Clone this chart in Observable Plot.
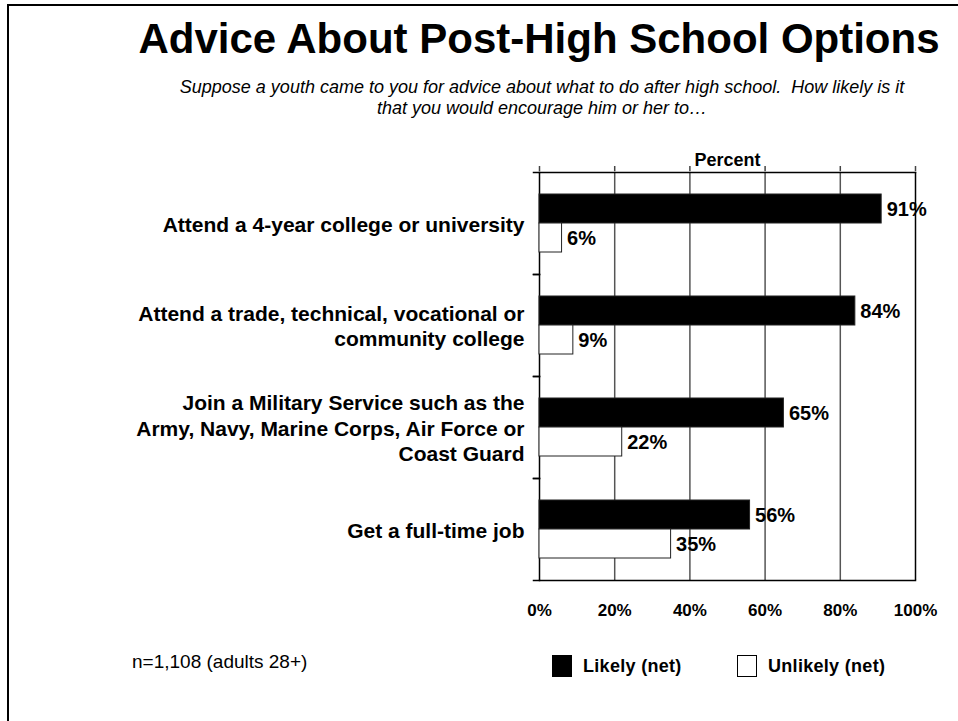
<!DOCTYPE html>
<html>
<head>
<meta charset="utf-8">
<script src="https://cdn.jsdelivr.net/npm/d3@7"></script>
<script src="https://cdn.jsdelivr.net/npm/@observablehq/plot@0.6"></script>
<style>
  html, body { margin: 0; padding: 0; background: #fff; }
  body { width: 958px; height: 721px; position: relative; overflow: hidden;
         font-family: "Liberation Sans", Arial, Helvetica, sans-serif; color: #000; }
  #frame { position: absolute; left: 7px; top: 4px; right: -10px; bottom: -10px;
           border-left: 2px solid #000; border-top: 2px solid #000; }
  #title { position: absolute; left: 120px; width: 838px; top: 18px; text-align: center;
           font-size: 42px; line-height: 42px; font-weight: bold; white-space: nowrap; }
  #subtitle { position: absolute; left: 126px; width: 832px; top: 77px; text-align: center;
              font-size: 18px; line-height: 21px; font-style: italic; white-space: nowrap; }
  #chart { position: absolute; left: 0; top: 120px; }
  #note { position: absolute; left: 132px; top: 652px; font-size: 19px; line-height: 20px; }
  .leg { position: absolute; top: 655px; display: flex; align-items: center; }
  .sw { width: 20px; height: 22px; box-sizing: border-box; border: 1px solid #000; margin-right: 11px; }
  .lt { font-size: 18px; font-weight: bold; letter-spacing: 0.3px; line-height: 22px; }
</style>
</head>
<body>
<div id="frame"></div>
<div id="title">Advice About Post-High School Options</div>
<div id="subtitle">Suppose a youth came to you for advice about what to do after high school.&nbsp; How likely is it<br>that you would encourage him or her to…</div>
<div id="chart"></div>
<div id="note">n=1,108 (adults 28+)</div>
<div id="legend"></div>
<script>
// ---- data ----
const categories = [
  "Attend a 4-year college or university",
  "Attend a trade, technical, vocational or community college",
  "Join a Military Service such as the Army, Navy, Marine Corps, Air Force or Coast Guard",
  "Get a full-time job"
];
const categoryLabels = [
  "Attend a 4-year college or university",
  "Attend a trade, technical, vocational or\ncommunity college",
  "Join a Military Service such as the\nArmy, Navy, Marine Corps, Air Force or\nCoast Guard",
  "Get a full-time job"
];
const series = ["Likely (net)", "Unlikely (net)"];
const likely = [91, 84, 65, 56];
const unlikely = [6, 9, 22, 35];
const xTicks = [0, 20, 40, 60, 80, 100];
const seriesColors = ["#000000", "#ffffff"];

const data = categories.flatMap((c, i) => [
  {category: c, series: series[0], value: likely[i]},
  {category: c, series: series[1], value: unlikely[i]}
]);

// ---- layout ----
const W = 958, H = 520;
const mL = 539, mR = 43, mT = 50, mB = 59;
const plotW = W - mL - mR;
const facetH = (H - mT - mB) / categories.length;
const firstCat = categories[0];
const lastCat = categories[categories.length - 1];

const chart = Plot.plot({
  width: W, height: H,
  marginLeft: mL, marginRight: mR, marginTop: mT, marginBottom: mB,
  style: {fontFamily: "'Liberation Sans', Arial, sans-serif", color: "#000", background: "transparent", overflow: "visible"},
  x: {domain: [0, 100]},
  y: {domain: series, paddingInner: 0, paddingOuter: 0.74, axis: null},
  fy: {domain: categories, padding: 0, axis: null, label: null},
  color: {domain: series, range: seriesColors},
  marks: [
    Plot.ruleX(xTicks.slice(1, -1), {stroke: "#555", strokeWidth: 1.5}),
    Plot.ruleX([xTicks[0], xTicks[xTicks.length - 1]], {stroke: "#000", strokeWidth: 1.5}),
    // plot frame top and bottom edges (only in first / last facet)
    Plot.frame({anchor: "top", fy: () => firstCat, stroke: "#000", strokeWidth: 1.5}),
    Plot.frame({anchor: "bottom", fy: () => lastCat, stroke: "#000", strokeWidth: 1.5}),
    // small tick marks at the category boundaries on the left axis
    Plot.frame({anchor: "top", insetLeft: -6, insetRight: plotW, stroke: "#000", strokeWidth: 1.5}),
    Plot.frame({anchor: "bottom", insetLeft: -6, insetRight: plotW, stroke: "#000", strokeWidth: 1.5}),
    // small tick marks above the frame at each gridline
    Plot.tickX(xTicks, {x: d => d, fy: () => firstCat, insetTop: -6, insetBottom: facetH, stroke: "#444", strokeWidth: 1.5}),
    Plot.barX(data, {x: "value", y: "series", fy: "category", fill: "series", stroke: "#222", strokeWidth: 1}),
    Plot.text(data, {x: "value", y: "series", fy: "category", text: d => d.value + "%",
      textAnchor: "start", dx: 5, dy: 1, fontSize: 20, fontWeight: "bold", fill: "#000"}),
    Plot.text(categories, {fy: d => d, text: categoryLabels, frameAnchor: "left", textAnchor: "end",
      dx: -15, lineHeight: 1.2, fontSize: 21, fontWeight: "bold", fill: "#000", ariaLabel: "category-label"}),
    Plot.text([firstCat], {fy: d => d, text: ["Percent"], frameAnchor: "top", dy: -19,
      fontSize: 18, fontWeight: "bold", fill: "#000"}),
    Plot.axisX({anchor: "bottom", ticks: xTicks, tickSize: 0, tickPadding: 23, tickFormat: d => d + "%",
      label: null, fontSize: 17, fontWeight: "bold"})
  ]
});
document.getElementById("chart").appendChild(chart);

// center the lines of each multi-line category label within its right-aligned block
chart.querySelectorAll('g[aria-label="category-label"] text').forEach(t => {
  const w = t.getBBox().width;
  t.setAttribute("text-anchor", "middle");
  const tr = t.getAttribute("transform") || "";
  t.setAttribute("transform", (tr + ` translate(${-w / 2},0)`).trim());
});

// legend
const legend = document.getElementById("legend");
const legendX = [552, 737];
series.forEach((s, i) => {
  const item = document.createElement("div");
  item.className = "leg";
  item.style.left = legendX[i] + "px";
  const sw = document.createElement("div");
  sw.className = "sw";
  sw.style.background = seriesColors[i];
  const lt = document.createElement("div");
  lt.className = "lt";
  lt.textContent = s;
  item.appendChild(sw);
  item.appendChild(lt);
  legend.appendChild(item);
});
</script>
</body>
</html>
